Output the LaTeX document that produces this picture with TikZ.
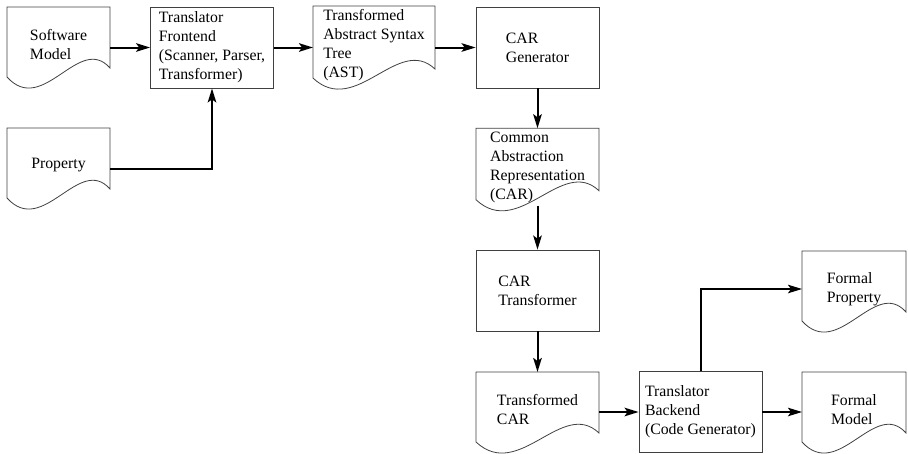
\documentclass[tikz,border=0pt]{standalone}
\usepackage{fontspec}
\setmainfont{Liberation Serif}
\usetikzlibrary{arrows.meta,calc}

\begin{document}
\begin{tikzpicture}[x=1pt, y=1pt,
    proc/.style={draw=black!75, line width=0.8pt, minimum width=123pt, minimum height=81pt, align=left, font=\fontsize{15.8}{19}\selectfont},
    doc/.style={minimum height=76pt, outer sep=0pt, align=left, font=\fontsize{15.8}{19}\selectfont},
    docline/.style={draw=black!75, line width=0.8pt},
    arr/.style={-{Stealth[length=14pt,width=8.5pt,inset=3pt]}, line width=2pt}
]
\useasboundingbox (0,0) rectangle (908,-453);

\node[doc, minimum width=103pt] (sw) at (58.5,-45) {Software\\Model};
\node[doc, minimum width=103pt] (prop) at (58.5,-166) {\raisebox{6pt}{Property}};
\node[proc] (fe) at (212,-47.5) {Translator\\Frontend\\(Scanner, Parser,\\Transformer)};
\node[doc, minimum width=122pt] (ast) at (374,-45) {Transformed\\Abstract Syntax\\Tree\\(AST)};
\node[proc] (gen) at (537.5,-47.5) {CAR\\Generator};
\node[doc, minimum width=123pt] (car) at (537.5,-167) {Common\\Abstraction\\Representation\\(CAR)};
\node[proc] (ctr) at (537.5,-290.5) {CAR\\Transformer};
\node[doc, minimum width=123pt] (tcar) at (537.5,-410) {Transformed\\CAR};
\node[proc] (be) at (700.5,-412) {Translator\\Backend\\(Code Generator)};
\node[doc, minimum width=104pt] (fprop) at (854,-289) {Formal\\Property};
\node[doc, minimum width=104pt] (fmod) at (854,-410) {Formal\\Model};

% document outlines with wavy bottom
\foreach \n in {sw,prop,ast,car,tcar,fprop,fmod}
  \draw[docline] (\n.north west) -- (\n.north east) -- ([yshift=15pt]\n.south east)
    .. controls ($(\n.south east)!0.3!(\n.south west)+(0,50pt)$) and ($(\n.south west)!0.35!(\n.south east)+(0,-34pt)$) .. ([yshift=6pt]\n.south west) -- cycle;

\draw[arr] (sw.east |- fe.west) -- (fe.west);
\draw[arr] ([yshift=-3pt]prop.east) -| (fe.south);
\draw[arr] (fe.east) -- (fe.east -| ast.west);
\draw[arr] (ast.east |- gen.west) -- (gen.west);
\draw[arr] (gen.south) -- (car.north);
\draw[arr] (car.south) -- (ctr.north);
\draw[arr] (ctr.south) -- (tcar.north);
\draw[arr] (tcar.east |- be.west) -- (be.west);
\draw[arr] (be.east) -- (be.east -| fmod.west);
\draw[arr] (be.north) |- (fprop.west);
\end{tikzpicture}
\end{document}
